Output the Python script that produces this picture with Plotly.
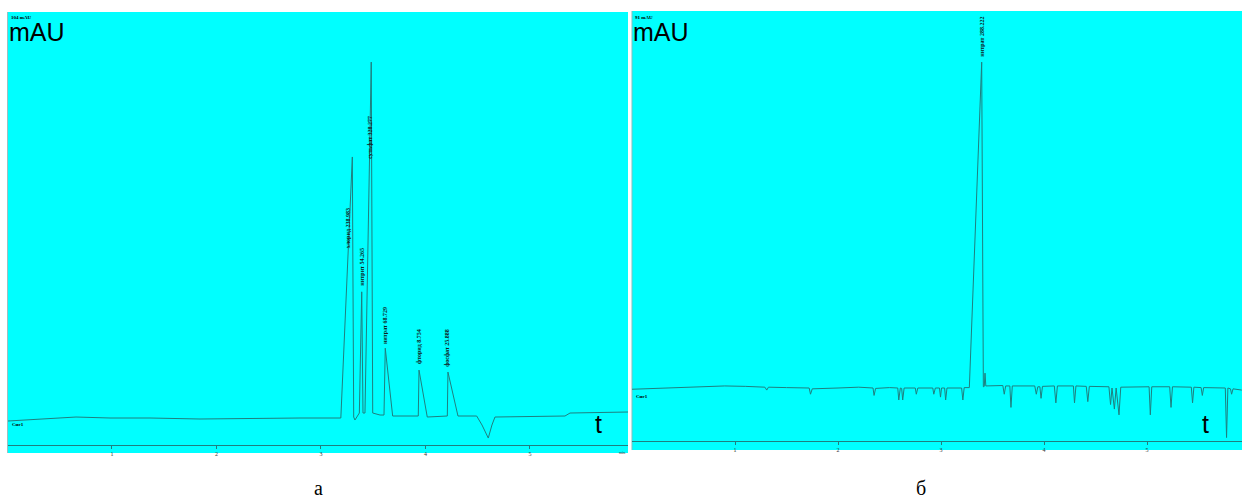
import plotly.graph_objects as go

W, H = 1242, 502

# ---------------- data ----------------
# panel "а": chromatogram, time (min) vs signal (mAU)
a_time = [0.005, 0.311, 0.656, 0.981, 1.364, 1.842, 2.416, 2.799, 3.182, 3.19,
          3.300, 3.313, 3.325, 3.354, 3.367, 3.390, 3.402, 3.421, 3.459, 3.481,
          3.495, 3.565, 3.603, 3.615, 3.686, 3.931, 3.938, 4.017, 4.209, 4.215,
          4.311, 4.490, 4.541, 4.601, 4.636, 4.665, 5.335, 5.383, 5.938]
a_signal = [-0.51, 0.0, 0.51, 0.26, 0.26, 0.0, 0.26, 0.26, 0.26, 0.26,
            66.96, 0.51, -0.26, 0.77, 1.53, 32.5, 1.53, 1.53, 63.6, 91.2,
            1.53, 1.02, 1.02, 18.1, 0.77, 0.77, 12.5, 0.51, 0.77, 12.0,
            0.77, 0.77, -1.53, -4.86, -1.53, 0.51, 0.77, 1.53, 1.79]
a_labels = ["хлорид 238.983", "нитрит 54.265", "сульфат 328.277",
            "нитрат 68.729", "фторид 8.754", "фосфат 25.888"]
a_label_t = [3.261, 3.395, 3.469, 3.615, 3.938, 4.212]
a_label_v = [48.8, 39.0, 72.1, 23.8, 18.4, 18.1]
a_ticks = [1, 2, 3, 4, 5]

# panel "б"
b_time = [0.00, 0.30, 0.60, 0.90, 1.10, 1.29, 1.308, 1.325, 1.50, 1.72,
          1.733, 1.75, 2.00, 2.20, 2.34, 2.350, 2.365, 2.50, 2.58, 2.590,
          2.605, 2.618, 2.628, 2.642, 2.75, 2.760, 2.775, 2.92, 2.930, 2.945,
          2.985, 2.995, 3.005, 3.035, 3.045, 3.058, 3.20, 3.212, 3.225, 3.275,
          3.395, 3.411, 3.420, 3.427, 3.435, 3.60, 3.614, 3.628, 3.668, 3.679,
          3.692, 3.91, 3.925, 3.94, 3.96, 3.971, 3.985, 4.10, 4.115, 4.13,
          4.285, 4.296, 4.31, 4.41, 4.425, 4.44, 4.63, 4.646, 4.66, 4.683,
          4.70, 4.728, 4.745, 5.02, 5.032, 5.046, 5.22, 5.233, 5.247, 5.43,
          5.442, 5.455, 5.525, 5.537, 5.55, 5.76, 5.772, 5.785, 5.81, 5.821,
          5.835, 5.92]
b_signal = [-0.3, 0.0, 0.3, 0.5, 0.4, 0.2, -0.5, 0.2, 0.1, 0.0,
            -1.5, -0.2, 0.0, 0.2, 0.0, -1.8, -0.1, 0.1, 0.0, -2.9,
            0.0, -0.1, -2.9, 0.0, 0.0, -1.5, 0.0, 0.0, -1.5, 0.0,
            0.0, -2.2, 0.0, 0.0, -2.9, 0.0, 0.0, -2.9, 0.1, 0.1,
            78.9, 0.3, 0.4, 3.6, 0.5, 0.6, -1.5, 0.5, 0.5, -4.7,
            0.5, 0.5, -1.5, 0.3, 0.3, -2.5, 0.4, 0.5, -3.6, 0.5,
            0.5, -3.6, 0.5, 0.4, -3.3, 0.4, 0.3, -4.0, 0.0, -5.1,
            0.0, -6.5, 0.2, 0.3, -6.5, 0.3, 0.3, -4.7, 0.3, 0.2,
            -3.6, 0.2, 0.1, -1.8, 0.1, 0.0, -12.0, 0.0, -0.2, -1.5,
            -0.2, -0.5]
b_labels = ["нитрат 288.222"]
b_label_t = [3.395]
b_label_v = [85.0]
b_ticks = [1, 2, 3, 4, 5]

# ---------------- layout helpers ----------------
def px(x):
    return x / W

def py(y):
    return 1 - y / H

LINE = "#1f7f7f"
CYAN = "#00FFFF"

fig = go.Figure()
fig.add_trace(go.Scatter(x=a_time, y=a_signal, mode="lines",
                         line=dict(color=LINE, width=1), xaxis="x", yaxis="y",
                         showlegend=False, hoverinfo="skip"))
fig.add_trace(go.Scatter(x=b_time, y=b_signal, mode="lines",
                         line=dict(color=LINE, width=1), xaxis="x2", yaxis="y2",
                         showlegend=False, hoverinfo="skip"))

axis_common = dict(showgrid=False, zeroline=False, showline=True, linecolor=LINE,
                   linewidth=1, ticks="outside", ticklen=3, tickcolor=LINE,
                   tickfont=dict(size=6, color="#333333", family="Liberation Serif"),
                   fixedrange=True)

fig.update_layout(
    width=W, height=H,
    margin=dict(l=0, r=0, t=0, b=0),
    paper_bgcolor="white",
    plot_bgcolor="rgba(0,0,0,0)",
    xaxis=dict(domain=[px(8), px(628)], range=[0.005, 5.938], anchor="y",
               tickvals=a_ticks, **axis_common),
    yaxis=dict(domain=[py(445), py(12)], range=[-6.64, 104], visible=False,
               anchor="x", fixedrange=True),
    xaxis2=dict(domain=[px(632), px(1242)], range=[0, 5.922], anchor="y2",
                tickvals=b_ticks, **axis_common),
    yaxis2=dict(domain=[py(441), py(12)], range=[-12.83, 91.04], visible=False,
                anchor="x2", fixedrange=True),
)

shapes = [
    dict(type="rect", xref="paper", yref="paper", x0=px(8), x1=px(628),
         y0=py(453), y1=py(12), fillcolor=CYAN, line=dict(width=0), layer="below"),
    dict(type="rect", xref="paper", yref="paper", x0=px(632), x1=px(1242),
         y0=py(450), y1=py(11), fillcolor=CYAN, line=dict(width=0), layer="below"),
    dict(type="line", xref="paper", yref="paper", x0=px(7.5), x1=px(7.5),
         y0=py(453), y1=py(12), line=dict(color="#9fbfbf", width=1), layer="below"),
    dict(type="line", xref="paper", yref="paper", x0=px(632), x1=px(632),
         y0=py(450), y1=py(11), line=dict(color="#7fbfbf", width=1), layer="below"),
]
fig.update_layout(shapes=shapes)

ann = []
big = dict(family="Liberation Sans, Arial", size=25, color="black")
tiny = dict(family="Liberation Serif", size=5, color="black")
for x0 in (7, 631):
    ann.append(dict(text="mAU", x=px(x0), y=py(16), xref="paper", yref="paper",
                    xanchor="left", yanchor="top", showarrow=False, font=big))
ann.append(dict(text="<b>104 mAU</b>", x=px(9), y=py(13), xref="paper", yref="paper",
                xanchor="left", yanchor="top", showarrow=False, font=tiny))
ann.append(dict(text="<b>91 mAU</b>", x=px(633), y=py(13), xref="paper", yref="paper",
                xanchor="left", yanchor="top", showarrow=False, font=tiny))
ann.append(dict(text="<b>Сиг1</b>", x=px(10), y=py(420), xref="paper", yref="paper",
                xanchor="left", yanchor="top", showarrow=False, font=tiny))
ann.append(dict(text="<b>Сиг1</b>", x=px(634), y=py(392), xref="paper", yref="paper",
                xanchor="left", yanchor="top", showarrow=False, font=tiny))
for x0 in (598, 1205):
    ann.append(dict(text="t", x=px(x0), y=py(424), xref="paper", yref="paper",
                    xanchor="center", yanchor="middle", showarrow=False, font=big))
ann.append(dict(text="min", x=px(622), y=py(452), xref="paper", yref="paper",
                xanchor="center", yanchor="middle", showarrow=False,
                font=dict(family="Liberation Serif", size=4, color="#333")))
for txt, x0 in (("а", 318), ("б", 921)):
    ann.append(dict(text=txt, x=px(x0), y=py(488), xref="paper", yref="paper",
                    xanchor="center", yanchor="middle", showarrow=False,
                    font=dict(family="Liberation Serif, Times New Roman", size=20,
                              color="black")))

lab_font = dict(family="Liberation Serif", size=6, color="#102020")
for t, v, s in zip(a_label_t, a_label_v, a_labels):
    ann.append(dict(text="<b>" + s + "</b>", x=t, y=v, xref="x", yref="y",
                    textangle=-90, showarrow=False, xanchor="center",
                    yanchor="middle", font=lab_font))
for t, v, s in zip(b_label_t, b_label_v, b_labels):
    ann.append(dict(text="<b>" + s + "</b>", x=t, y=v, xref="x2", yref="y2",
                    textangle=-90, showarrow=False, xanchor="center",
                    yanchor="middle", font=lab_font))
fig.update_layout(annotations=ann)

fig.write_html("out.html", config={"displayModeBar": False},
               post_script="document.body.style.margin='0px';")
